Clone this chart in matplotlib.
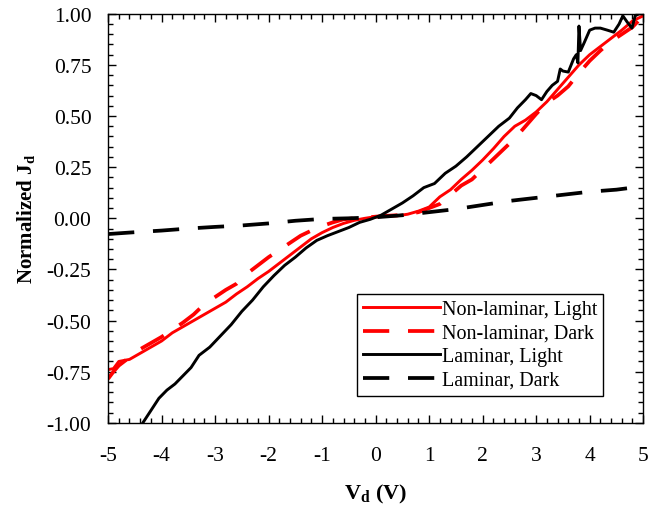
import matplotlib
matplotlib.use("Agg")
import matplotlib.pyplot as plt
from matplotlib.ticker import MultipleLocator, FormatStrFormatter

# ---------------------------------------------------------
# Data
# ---------------------------------------------------------
lam_light_v = [-4.35, -4.2, -4.05, -3.9, -3.75, -3.6, -3.45, -3.3, -3.1, -2.9,
               -2.7, -2.5, -2.3, -2.1, -1.9, -1.7, -1.5, -1.3, -1.1, -0.9,
               -0.7, -0.5, -0.3, -0.1, 0.1, 0.3, 0.5, 0.7, 0.9, 1.1,
               1.3, 1.5, 1.7, 1.9, 2.1, 2.3, 2.5, 2.65, 2.8, 2.9,
               3.0, 3.1, 3.2, 3.3, 3.4, 3.45, 3.5, 3.6, 3.7, 3.75,
               3.78, 3.8, 3.83, 3.9, 4.0, 4.1, 4.2, 4.33, 4.45, 4.55,
               4.62, 4.7, 4.79, 4.85, 4.92, 5.0]
lam_light_j = [-1.0, -0.94, -0.88, -0.84, -0.81, -0.77, -0.73, -0.67, -0.63, -0.575,
               -0.52, -0.455, -0.40, -0.335, -0.28, -0.23, -0.19, -0.145, -0.108, -0.085,
               -0.065, -0.045, -0.02, -0.005, 0.015, 0.045, 0.075, 0.11, 0.15, 0.17,
               0.22, 0.255, 0.30, 0.35, 0.40, 0.45, 0.49, 0.54, 0.58, 0.61,
               0.60, 0.58, 0.62, 0.65, 0.67, 0.73, 0.72, 0.715, 0.78, 0.80,
               0.76, 0.94, 0.82, 0.86, 0.92, 0.93, 0.93, 0.92, 0.91, 0.95,
               0.99, 0.96, 0.93, 0.99, 1.0, 1.0]

nl_light_v = [-5.0, -4.9, -4.8, -4.6, -4.4, -4.2, -4.0, -3.8, -3.6, -3.4,
              -3.2, -3.0, -2.8, -2.6, -2.4, -2.2, -2.0, -1.8, -1.6, -1.4,
              -1.2, -1.0, -0.8, -0.6, -0.4, -0.2, 0.0, 0.2, 0.4, 0.6,
              0.8, 1.0, 1.2, 1.4, 1.6, 1.8, 2.0, 2.2, 2.4, 2.6,
              2.8, 3.0, 3.2, 3.4, 3.6, 3.8, 4.0, 4.2, 4.4, 4.6,
              4.8, 5.0]
nl_light_j = [-0.74, -0.735, -0.70, -0.69, -0.66, -0.63, -0.60, -0.56, -0.53, -0.50,
              -0.47, -0.44, -0.41, -0.37, -0.335, -0.295, -0.26, -0.22, -0.18, -0.14,
              -0.10, -0.07, -0.045, -0.025, -0.01, 0.0, 0.008, 0.012, 0.012, 0.02,
              0.035, 0.055, 0.105, 0.14, 0.19, 0.235, 0.285, 0.34, 0.40, 0.45,
              0.48, 0.52, 0.57, 0.63, 0.69, 0.75, 0.80, 0.84, 0.88, 0.92,
              0.965, 0.99]

nl_dark_v = nl_light_v
nl_dark_j = [-0.785, -0.75, -0.72, -0.68, -0.64, -0.61, -0.58, -0.545, -0.51, -0.47,
             -0.42, -0.385, -0.35, -0.32, -0.27, -0.23, -0.19, -0.155, -0.12, -0.085,
             -0.06, -0.038, -0.02, -0.005, 0.0, 0.003, 0.008, 0.012, 0.015, 0.02,
             0.03, 0.05, 0.07, 0.115, 0.16, 0.19, 0.24, 0.29, 0.34, 0.39,
             0.45, 0.51, 0.565, 0.60, 0.645, 0.71, 0.77, 0.82, 0.865, 0.90,
             0.935, 0.99]

lam_dark_v = [-5.0, -4.5, -4.0, -3.5, -3.0, -2.5, -2.0, -1.5, -1.0, -0.5,
              0.0, 0.5, 1.0, 1.5, 2.0, 2.5, 3.0, 3.5, 4.0, 4.5, 4.8, 5.0]
lam_dark_j = [-0.077, -0.068, -0.06, -0.05, -0.042, -0.035, -0.025, -0.012, -0.003, 0.0,
              0.005, 0.015, 0.03, 0.045, 0.065, 0.085, 0.10, 0.115, 0.13, 0.14, 0.15, 0.155]

x_ticks = [-5, -4, -3, -2, -1, 0, 1, 2, 3, 4, 5]
y_ticks = [-1.0, -0.75, -0.5, -0.25, 0.0, 0.25, 0.5, 0.75, 1.0]

# ---------------------------------------------------------
# Style
# ---------------------------------------------------------
plt.rcParams["font.family"] = ["Liberation Serif", "DejaVu Serif"]
plt.rcParams["mathtext.fontset"] = "custom"
plt.rcParams["mathtext.rm"] = "Liberation Serif"
plt.rcParams["mathtext.bf"] = "Liberation Serif:bold"
plt.rcParams["axes.unicode_minus"] = False

fig = plt.figure(figsize=(6.59, 5.10), dpi=100)
ax = fig.add_axes([0.164, 0.169, 0.812, 0.802])

lw = 2.1
ax.plot(nl_light_v, nl_light_j, color="#ff0000", lw=lw, label="Non-laminar, Light")
ax.plot(nl_dark_v, nl_dark_j, color="#ff0000", lw=lw + 0.6, dashes=(7, 5),
        label="Non-laminar, Dark")
ax.plot(lam_light_v, lam_light_j, color="black", lw=lw, label="Laminar, Light")
ax.plot(lam_dark_v, lam_dark_j, color="black", lw=lw + 0.6, dashes=(7, 5),
        label="Laminar, Dark")

ax.set_xlim(-5, 5)
ax.set_ylim(-1, 1)
ax.set_xticks(x_ticks)
ax.set_yticks(y_ticks)
ax.xaxis.set_minor_locator(MultipleLocator(0.2))
ax.yaxis.set_minor_locator(MultipleLocator(0.05))
ax.yaxis.set_major_formatter(FormatStrFormatter("%.2f"))
ax.tick_params(which="both", direction="in", top=True, right=True, labelsize=15.5,
               width=1, color="black")
ax.tick_params(which="major", length=6)
ax.tick_params(which="minor", length=3.5)
ax.tick_params(axis="x", which="major", pad=17)
ax.tick_params(axis="y", which="major", pad=12)
for s in ax.spines.values():
    s.set_linewidth(1.0)

ax.set_xlabel(r"V$_{\mathbf{d}}$ (V)", fontsize=16, fontweight="bold", labelpad=12)
ax.set_ylabel(r"Normalized J$_{\mathbf{d}}$", fontsize=15, fontweight="bold", labelpad=6)

leg = ax.legend(loc="lower right", bbox_to_anchor=(0.925, 0.066), fontsize=14.5,
                handlelength=3.8, handletextpad=0.1, borderpad=0.3, labelspacing=0.22,
                fancybox=False, framealpha=1, borderaxespad=0)
leg.get_frame().set_edgecolor("black")
leg.get_frame().set_linewidth(1.0)

fig.savefig("out.png", dpi=100)
